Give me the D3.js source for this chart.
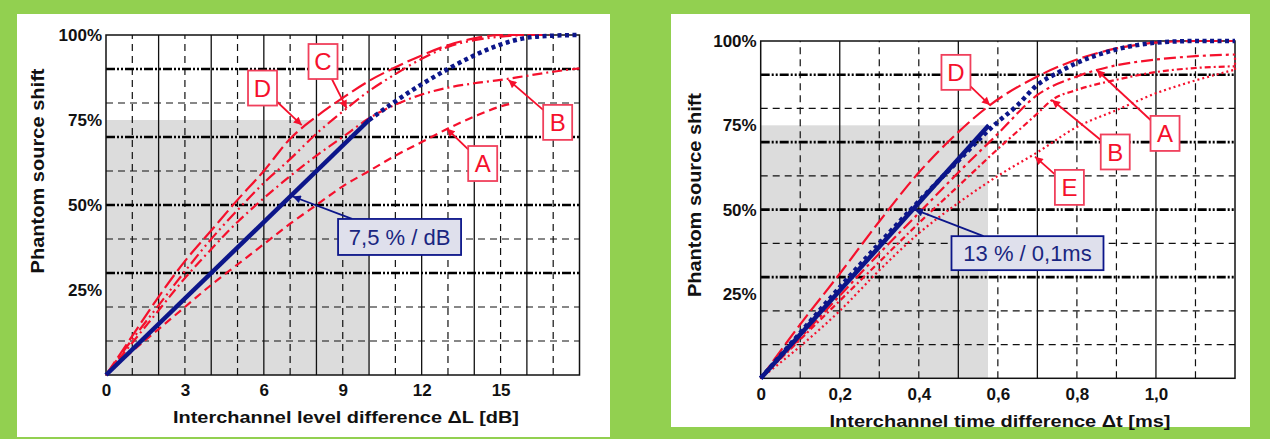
<!DOCTYPE html>
<html>
<head>
<meta charset="utf-8">
<script src="https://cdn.jsdelivr.net/npm/d3@7"></script>
<style>
    html, body { margin: 0; padding: 0; background: #92d050; }
    svg { display: block; font-family: "Liberation Sans", Arial, sans-serif; }
</style>
</head>
<body>
<svg id="chart" width="1270" height="439"></svg>
<script>
"use strict";

// ---- shared grid values (% shift) ----
var pctLabels = [25, 50, 75, 100];
var pctGridThick = [30, 50, 70, 90];
var pctGridThin = [10, 20, 40, 60, 80];

// ---- level difference panel: [dB, %] ----
var levelTicks = [0, 3, 6, 9, 12, 15];
var levelGridSolid = [2, 4, 6, 8, 10, 12, 14, 16];
var levelGridDashed = [1, 3, 5, 7, 9, 11, 13, 15, 17];
var levelShade = [10, 75];

var levelBlueSolid = [[0, 0], [10, 75]];
var levelBlueDotted = [[10, 75], [11, 80.5], [12, 85.5], [13, 90], [14, 94], [15, 97.2], [16, 99.2], [17, 99.8], [18, 100]];
var levelA = [[0, 0], [1, 7], [2, 13.5], [3, 20], [4, 26.5], [5, 32.5], [6, 38.5], [7, 44.5], [8, 50], [9, 55.5], [10, 60], [11, 64.5], [12, 68.5], [13, 72.5], [14, 76], [15, 79], [15.5, 80]];
var levelB = [[0, 0], [1, 9.5], [2, 19], [3, 28.5], [4, 37], [5, 45], [6, 52], [7, 58.5], [8, 64.5], [9, 70], [10, 75.5], [11, 79.5], [12, 82.5], [13, 84.5], [14, 85.8], [15, 86.8], [16, 88], [17, 89.2], [18, 90.2]];
var levelC = [[0, 0], [1, 10.5], [2, 20.5], [3, 30.5], [4, 40], [5, 48.5], [6, 56.5], [7, 63.5], [8, 71], [9, 77.5], [10, 83.5], [11, 88.5], [12, 93], [13, 96.5], [14, 98.5], [15, 99.5], [16, 100], [17, 100]];
var levelD = [[0, 0], [1, 11.5], [2, 23], [3, 33.5], [4, 42.5], [5, 51.5], [6, 60], [7, 69.5], [8, 76], [9, 81.5], [10, 86.5], [11, 90.5], [12, 94], [13, 97], [14, 99], [15, 100], [17, 100]];

// ---- time difference panel: [ms, %] ----
var timeTicks = [0, 0.2, 0.4, 0.6, 0.8, 1.0];
var timeGridSolid = [0.2, 0.5, 0.7, 1.0];
var timeGridDashed = [0.1, 0.3, 0.4, 0.6, 0.8, 0.9, 1.1];
var timeShade = [0.575, 75];

var timeBlueSolid = [[0, 0], [0.577, 75]];
var timeBlueDotted = [[0, 0], [0.1, 13.5], [0.2, 27], [0.3, 40], [0.4, 52.5], [0.5, 64.5], [0.59, 75], [0.65, 81], [0.7, 87], [0.75, 90.5], [0.8, 93.5], [0.9, 97.5], [1.0, 99.5], [1.1, 100], [1.2, 100]];
var timeA = [[0, 0], [0.1, 12], [0.2, 24.5], [0.3, 37], [0.4, 49], [0.5, 61], [0.6, 72.5], [0.7, 84], [0.8, 89.5], [0.85, 91.4], [0.9, 92.8], [1.0, 94.5], [1.1, 95.5], [1.2, 96]];
var timeB = [[0, 0], [0.1, 11.5], [0.2, 23], [0.3, 34.5], [0.4, 46], [0.5, 57], [0.6, 68], [0.7, 78.5], [0.737, 82.5], [0.8, 85.5], [0.9, 88.5], [1.0, 90.8], [1.1, 92], [1.2, 92.5]];
var timeD = [[0, 0], [0.1, 16], [0.2, 31], [0.3, 46.5], [0.4, 61], [0.5, 73], [0.58, 81], [0.7, 89.5], [0.8, 94.5], [0.9, 97.8], [1.0, 99.5], [1.1, 100], [1.2, 100]];
var timeE = [[0, 0], [0.1, 9.5], [0.2, 20], [0.3, 32], [0.4, 43], [0.5, 52], [0.6, 60], [0.7, 67], [0.8, 74.5], [0.9, 79.5], [1.0, 84.5], [1.1, 88.3], [1.2, 91.5]];
var timeEnd = [[1.2, 91.5], [1.2, 96]];

var RED = "#f5102c";
var NAVY = "#0c168a";

var svg = d3.select("#chart");

// green background + white cards
svg.append("rect").attr("width", 1270).attr("height", 439).attr("fill", "#92d050");
svg.append("rect").attr("x", 17).attr("y", 14).attr("width", 593).attr("height", 423).attr("fill", "#fff");
svg.append("rect").attr("x", 671).attr("y", 14).attr("width", 579).attr("height", 413).attr("fill", "#fff");

// arrow heads
var defs = svg.append("defs");
[["arrow-red", RED], ["arrow-navy", NAVY]].forEach(m => {
    defs.append("marker")
        .attr("id", m[0])
        .attr("viewBox", "0 0 10 10")
        .attr("refX", 10).attr("refY", 5)
        .attr("markerUnits", "userSpaceOnUse")
        .attr("markerWidth", 10).attr("markerHeight", 8)
        .attr("orient", "auto")
        .append("path")
        .attr("d", "M0,0 L10,5 L0,10 z")
        .attr("fill", m[1]);
});

function drawPanel(cfg) {
    var x = d3.scaleLinear().domain(cfg.xDomain).range(cfg.xRange);
    var y = d3.scaleLinear().domain([0, 100]).range(cfg.yRange);
    var g = svg.append("g");

    // shaded region
    g.append("rect")
        .attr("x", x(0)).attr("y", y(cfg.shade[1]))
        .attr("width", x(cfg.shade[0]) - x(0))
        .attr("height", y(0) - y(cfg.shade[1]))
        .attr("fill", "#dcdcdc");

    // vertical grid
    g.selectAll(".vsolid").data(cfg.gridSolid).join("line")
        .attr("x1", d => x(d)).attr("x2", d => x(d))
        .attr("y1", y(0)).attr("y2", y(100))
        .attr("stroke", "#111").attr("stroke-width", 1.3);
    g.selectAll(".vdash").data(cfg.gridDashed).join("line")
        .attr("x1", d => x(d)).attr("x2", d => x(d))
        .attr("y1", y(0)).attr("y2", y(100))
        .attr("stroke", "#111").attr("stroke-width", 1.2)
        .attr("stroke-dasharray", "7,5");

    // horizontal grid
    g.selectAll(".hthin").data(pctGridThin).join("line")
        .attr("x1", x.range()[0]).attr("x2", x.range()[1])
        .attr("y1", d => y(d)).attr("y2", d => y(d))
        .attr("stroke", "#111").attr("stroke-width", 1.2)
        .attr("stroke-dasharray", "7,5");
    g.selectAll(".hthick").data(pctGridThick).join("line")
        .attr("x1", x.range()[0]).attr("x2", x.range()[1])
        .attr("y1", d => y(d)).attr("y2", d => y(d))
        .attr("stroke", "#000").attr("stroke-width", 2.7)
        .attr("stroke-dasharray", "9,2,2,2,2,2");

    // frame
    g.append("rect")
        .attr("x", x.range()[0]).attr("y", y(100))
        .attr("width", x.range()[1] - x.range()[0])
        .attr("height", y(0) - y(100))
        .attr("fill", "none").attr("stroke", "#111").attr("stroke-width", 1.5);

    // curves
    var line = d3.line()
        .x(d => x(d[0]))
        .y(d => y(d[1]))
        .curve(d3.curveMonotoneX);

    cfg.series.forEach(s => {
        g.append("path")
            .datum(s.data)
            .attr("fill", "none")
            .attr("stroke", s.color)
            .attr("stroke-width", s.width)
            .attr("stroke-dasharray", s.dash)
            .attr("d", line);
    });

    // axes
    g.append("g")
        .attr("transform", `translate(0,${y(0)})`)
        .call(d3.axisBottom(x).tickValues(cfg.ticks).tickSize(0).tickPadding(cfg.tickPad).tickFormat(cfg.format))
        .call(a => a.select(".domain").remove())
        .selectAll("text")
        .attr("font-family", "Liberation Sans, Arial, sans-serif")
        .attr("font-size", 17).attr("font-weight", "bold").attr("fill", "#111");

    g.append("g")
        .attr("transform", `translate(${x(0)},0)`)
        .call(d3.axisLeft(y).tickValues(pctLabels).tickSize(0).tickPadding(4).tickFormat(d => d + "%"))
        .call(a => a.select(".domain").remove())
        .selectAll("text")
        .attr("font-family", "Liberation Sans, Arial, sans-serif")
        .attr("font-size", 17).attr("font-weight", "bold").attr("fill", "#111");

    // axis titles
    g.append("text")
        .attr("x", cfg.xTitle[0]).attr("y", cfg.xTitle[1])
        .attr("text-anchor", "middle")
        .attr("font-size", 17).attr("font-weight", "bold").attr("fill", "#111")
        .attr("textLength", cfg.xTitle[2]).attr("lengthAdjust", "spacingAndGlyphs")
        .text(cfg.xLabel);

    g.append("text")
        .attr("transform", `translate(${cfg.yTitle[0]},${cfg.yTitle[1]}) rotate(-90)`)
        .attr("text-anchor", "middle")
        .attr("font-size", 18).attr("font-weight", "bold").attr("fill", "#111")
        .attr("textLength", cfg.yTitle[2]).attr("lengthAdjust", "spacingAndGlyphs")
        .text("Phantom source shift");

    // call-out boxes with arrows
    cfg.notes.forEach(n => {
        var cx = x(n.box[0]), cy = y(n.box[1]);
        var tx = x(n.tip[0]), ty = y(n.tip[1]);
        var w = n.size[0], h = n.size[1];
        var dx = tx - cx, dy = ty - cy;
        var k = Math.min((w / 2) / Math.abs(dx || 1e-6), (h / 2) / Math.abs(dy || 1e-6));
        var blue = n.kind === "blue";

        g.append("line")
            .attr("x1", cx + dx * k).attr("y1", cy + dy * k)
            .attr("x2", tx).attr("y2", ty)
            .attr("stroke", blue ? NAVY : RED)
            .attr("stroke-width", 1.8)
            .attr("marker-end", blue ? "url(#arrow-navy)" : "url(#arrow-red)");

        g.append("rect")
            .attr("x", cx - w / 2).attr("y", cy - h / 2)
            .attr("width", w).attr("height", h)
            .attr("fill", blue ? "#dfe0ec" : "#fff")
            .attr("stroke", blue ? NAVY : "#f0405c")
            .attr("stroke-width", 1.8);

        g.append("text")
            .attr("x", cx).attr("y", cy)
            .attr("dy", "0.36em")
            .attr("text-anchor", "middle")
            .attr("font-size", blue ? 22 : 24)
            .attr("fill", blue ? "#1a2680" : RED)
            .text(n.text);
    });
}

drawPanel({
    xDomain: [0, 18],
    xRange: [106, 579.5],
    yRange: [375, 35],
    shade: levelShade,
    gridSolid: levelGridSolid,
    gridDashed: levelGridDashed,
    ticks: levelTicks,
    tickPad: 9,
    format: d => d,
    xLabel: "Interchannel level difference \u0394L  [dB]",
    xTitle: [346, 423, 346],
    yTitle: [44, 171, 205],
    series: [
        { data: levelA, color: RED, width: 2.2, dash: "8,5" },
        { data: levelB, color: RED, width: 2.2, dash: "10,4,2,4" },
        { data: levelC, color: RED, width: 2.2, dash: "12,4,2,4,2,4" },
        { data: levelD, color: RED, width: 2.2, dash: "16,5" },
        { data: levelBlueSolid, color: NAVY, width: 4.5, dash: null },
        { data: levelBlueDotted, color: NAVY, width: 4.5, dash: "4,3.5" }
    ],
    notes: [
        { text: "D", box: [5.95, 84.4], tip: [7.44, 73.5], size: [29, 35] },
        { text: "C", box: [8.25, 92.2], tip: [9.15, 78.4], size: [29, 35] },
        { text: "B", box: [17.17, 74.3], tip: [15.3, 86.8], size: [29, 35] },
        { text: "A", box: [14.32, 62.2], tip: [12.95, 72.5], size: [29, 35] },
        { text: "7,5 % / dB", box: [11.16, 40.6], tip: [7.1, 52.5], size: [123, 36], kind: "blue" }
    ]
});

drawPanel({
    xDomain: [0, 1.2],
    xRange: [760.7, 1235],
    yRange: [378.3, 41],
    shade: timeShade,
    gridSolid: timeGridSolid,
    gridDashed: timeGridDashed,
    ticks: timeTicks,
    tickPad: 10,
    format: d => d === 0 ? "0" : d3.format(".1f")(d).replace(".", ","),
    xLabel: "Interchannel time difference \u0394t  [ms]",
    xTitle: [1000, 427, 341],
    yTitle: [701, 195, 204],
    series: [
        { data: timeE, color: RED, width: 2.2, dash: "2,3" },
        { data: timeEnd, color: RED, width: 2.2, dash: "2,3" },
        { data: timeB, color: RED, width: 2.2, dash: "6,3,2,3" },
        { data: timeA, color: RED, width: 2.2, dash: "12,4,3,4" },
        { data: timeD, color: RED, width: 2.2, dash: "16,5" },
        { data: timeBlueSolid, color: NAVY, width: 4.5, dash: null },
        { data: timeBlueDotted, color: NAVY, width: 4.5, dash: "4,3.5" }
    ],
    notes: [
        { text: "D", box: [0.494, 90.7], tip: [0.58, 81], size: [29, 35] },
        { text: "A", box: [1.023, 72.6], tip: [0.85, 91.4], size: [29, 35] },
        { text: "B", box: [0.897, 67.1], tip: [0.737, 82.5], size: [29, 35] },
        { text: "E", box: [0.781, 56.6], tip: [0.694, 65.7], size: [29, 35] },
        { text: "13 % / 0,1ms", box: [0.675, 37.1], tip: [0.39, 50], size: [152, 34], kind: "blue" }
    ]
});
</script>
</body>
</html>
